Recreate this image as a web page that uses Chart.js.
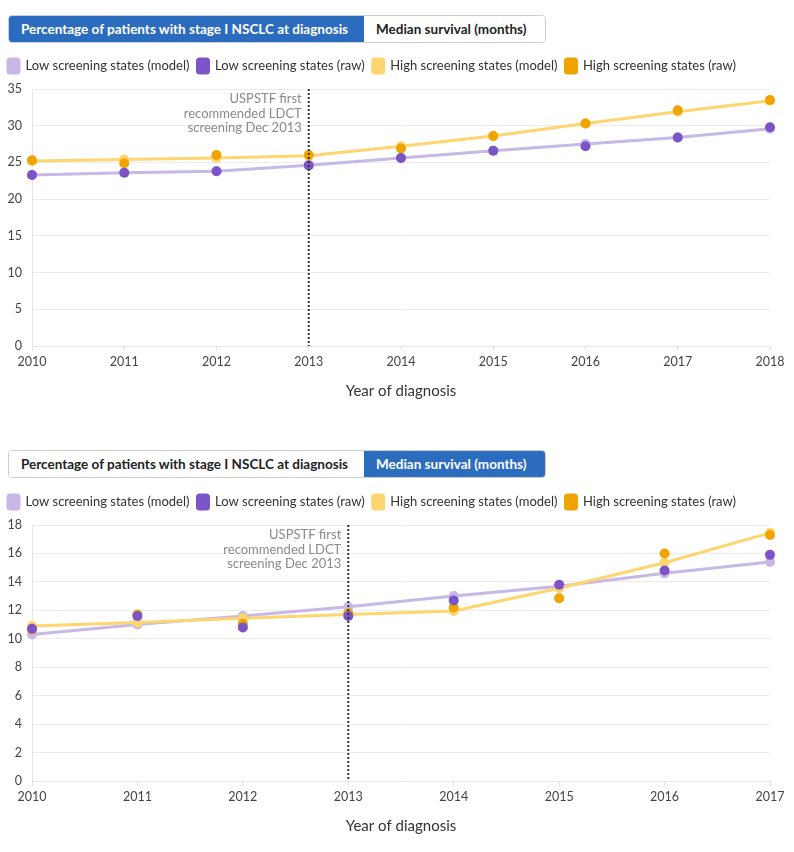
<!DOCTYPE html>
<html>
<head>
<meta charset="utf-8">
<script src="https://cdn.jsdelivr.net/npm/chart.js@4/dist/chart.umd.min.js"></script>
<style>
  body { margin: 0; background: #fff; font-family: Lato, "Noto Sans", sans-serif; }
  .block { position: absolute; left: 0; width: 794px; }
  .tabs { position: absolute; left: 8px; display: flex; border: 1px solid #cfcfcf; border-radius: 4px; overflow: hidden; height: 26px; }
  .tab { font-weight: bold; font-size: 13.5px; color: #222; padding: 0 12px; line-height: 26px; background: #fff; white-space: nowrap; }
  .tab.on { background: #2c6cbf; color: #fff; }
  .box { position: absolute; left: 0; width: 794px; }
</style>
</head>
<body>
<div class="block" style="top:0">
  <div class="tabs" style="top:15px">
    <div class="tab on" style="width:331px">Percentage of patients with stage I NSCLC at diagnosis</div>
    <div class="tab" style="width:157px">Median survival (months)</div>
  </div>
  <div class="box" style="top:51px;height:353px"><canvas id="stage"></canvas></div>
</div>
<div class="block" style="top:435px">
  <div class="tabs" style="top:15px">
    <div class="tab" style="width:331px">Percentage of patients with stage I NSCLC at diagnosis</div>
    <div class="tab on" style="width:157px">Median survival (months)</div>
  </div>
  <div class="box" style="top:52px;height:352px"><canvas id="survival"></canvas></div>
</div>
<script>
// series names
const seriesNames = ['Low screening states (model)', 'Low screening states (raw)', 'High screening states (model)', 'High screening states (raw)'];

// chart 1: percentage stage I at diagnosis
const stageYears = ['2010', '2011', '2012', '2013', '2014', '2015', '2016', '2017', '2018'];
const stageLowModel = [23.3, 23.6, 23.8, 24.6, 25.6, 26.6, 27.5, 28.4, 29.6];
const stageLowRaw = [23.3, 23.6, 23.8, 24.6, 25.6, 26.6, 27.2, 28.4, 29.8];
const stageHighModel = [25.2, 25.4, 25.6, 25.9, 27.2, 28.6, 30.3, 31.9, 33.4];
const stageHighRaw = [25.3, 24.9, 26.0, 26.0, 26.9, 28.6, 30.3, 32.1, 33.5];

// chart 2: median survival (months)
const survYears = ['2010', '2011', '2012', '2013', '2014', '2015', '2016', '2017'];
const survLowModel = [10.3, 11.0, 11.6, 12.25, 13.0, 13.7, 14.6, 15.4];
const survLowRaw = [10.7, 11.6, 10.8, 11.6, 12.7, 13.8, 14.8, 15.9];
const survHighModel = [10.9, 11.15, 11.45, 11.7, 11.95, 13.55, 15.35, 17.45];
const survHighRaw = [10.65, 11.7, 11.05, 11.8, 12.2, 12.85, 16.0, 17.3];

const noteYear = '2013';
const noteLines = ['USPSTF first', 'recommended LDCT', 'screening Dec 2013'];

const colors = ['#c8b8e8', '#7b55c8', '#fed56e', '#f0a400'];
const FONT = 'Lato, "Noto Sans", sans-serif';

const notePlugin = {
    id: 'note',
    afterDatasetsDraw: function (chart) {
        const ctx = chart.ctx, area = chart.chartArea;
        const x = chart.scales.x.getPixelForValue(chart.data.labels.indexOf(noteYear));
        ctx.save();
        ctx.strokeStyle = '#333';
        ctx.lineWidth = 2;
        ctx.setLineDash([2, 2]);
        ctx.beginPath();
        ctx.moveTo(x, area.top);
        ctx.lineTo(x, area.bottom);
        ctx.stroke();
        ctx.setLineDash([]);
        ctx.fillStyle = '#8a8a8a';
        ctx.font = '13px ' + FONT;
        ctx.textAlign = 'right';
        ctx.textBaseline = 'middle';
        noteLines.forEach((t, i) => ctx.fillText(t, x - 7, area.top + 10 + i * 14.5));
        ctx.restore();
    }
};

// extra room between legend and plot
const legendGap = {
    id: 'legendGap',
    beforeInit: function (chart) {
        const fit = chart.legend.fit;
        chart.legend.fit = function () {
            fit.bind(chart.legend)();
            this.height += 6;
        };
    }
};

function makeChart(id, years, lowModel, lowRaw, highModel, highRaw, yMax, yStep) {
    const values = [lowModel, lowRaw, highModel, highRaw];
    const orders = [2, 0, 1, 0];
    return new Chart(document.getElementById(id), {
        type: 'line',
        data: {
            labels: years,
            datasets: values.map((v, i) => ({
                label: seriesNames[i],
                data: v,
                borderColor: colors[i],
                backgroundColor: colors[i],
                pointBackgroundColor: colors[i],
                pointBorderWidth: 0,
                pointRadius: 5,
                borderWidth: 3,
                showLine: i % 2 === 0,
                order: orders[i]
            }))
        },
        options: {
            responsive: true,
            maintainAspectRatio: false,
            animation: false,
            layout: { padding: { left: 0, right: 24, top: 0, bottom: 4 } },
            plugins: {
                legend: {
                    align: 'start',
                    labels: {
                        font: { family: FONT, size: 13 },
                        color: '#333',
                        boxWidth: 11,
                        boxHeight: 14,
                        useBorderRadius: true,
                        borderRadius: 2,
                        padding: 8,
                        sort: (a, b) => a.datasetIndex - b.datasetIndex
                    }
                },
                tooltip: { enabled: false }
            },
            scales: {
                x: {
                    grid: { drawOnChartArea: false, drawTicks: true, tickLength: 5, color: '#e4e4e4' },
                    border: { color: '#e4e4e4' },
                    ticks: { font: { family: FONT, size: 12.5 }, color: '#444', padding: 3, maxRotation: 0 },
                    title: { display: true, text: 'Year of diagnosis', font: { family: FONT, size: 15 }, color: '#333', padding: { top: 10, bottom: 0 } }
                },
                y: {
                    min: 0,
                    max: yMax,
                    afterFit: function (axis) { axis.width = 32; },
                    grid: { color: '#ececec', drawTicks: false },
                    border: { color: '#e4e4e4' },
                    ticks: { stepSize: yStep, font: { family: FONT, size: 12.5 }, color: '#444', padding: 10 }
                }
            }
        },
        plugins: [notePlugin, legendGap]
    });
}

makeChart('stage', stageYears, stageLowModel, stageLowRaw, stageHighModel, stageHighRaw, 35, 5);
makeChart('survival', survYears, survLowModel, survLowRaw, survHighModel, survHighRaw, 18, 2);
</script>
</body>
</html>
